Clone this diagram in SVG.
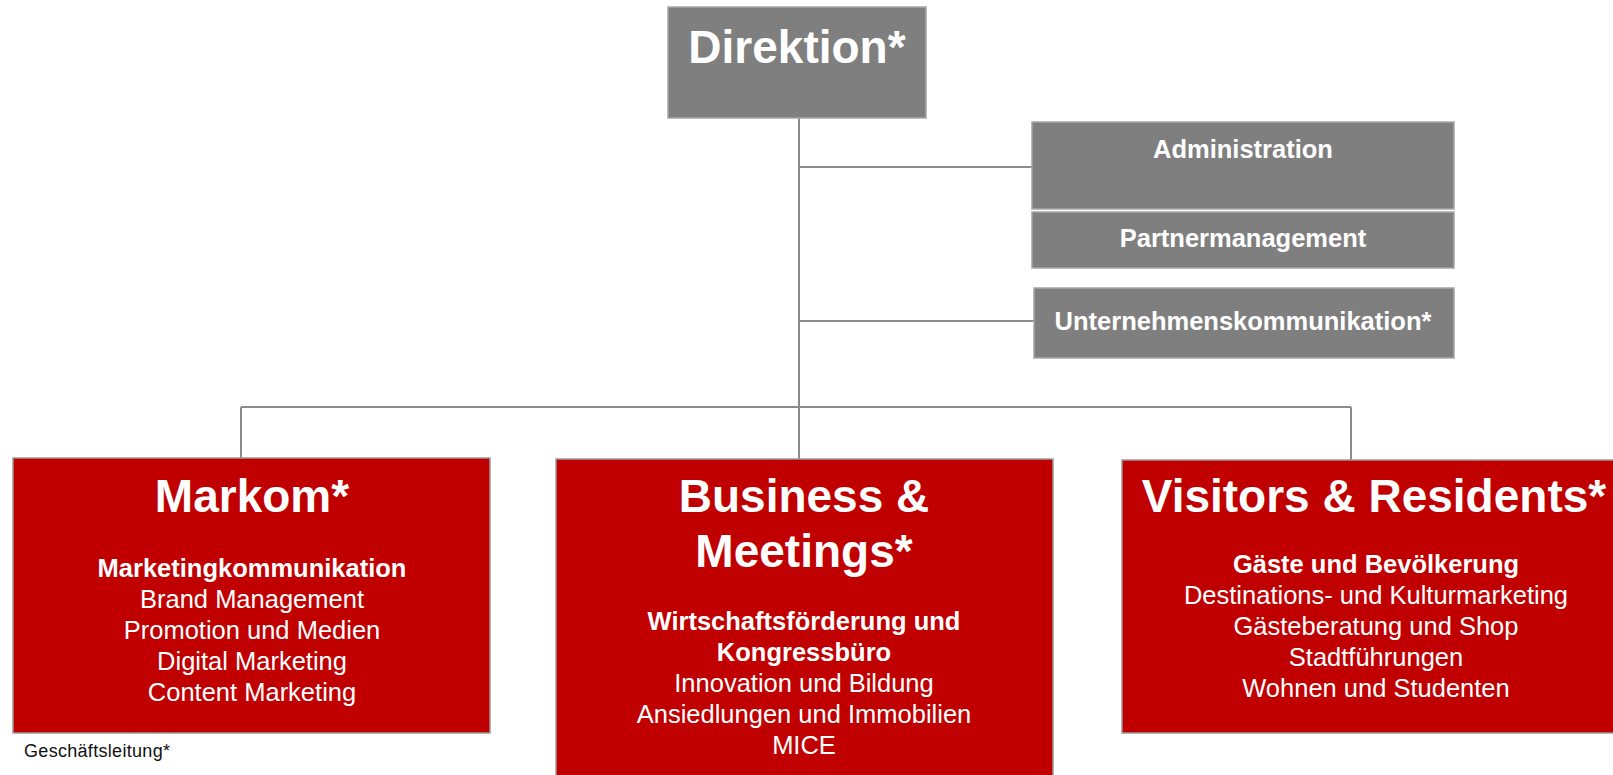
<svg xmlns="http://www.w3.org/2000/svg" width="1613" height="775" viewBox="0 0 1613 775">
<style>
.gray{fill:#7f7f7f;stroke:#a6a6a6;stroke-width:1.5}
.red{fill:#c00000;stroke:#9a9a9a;stroke-width:1.5}
.t{font-family:"Liberation Sans",Arial,sans-serif;fill:#fff;text-anchor:middle}
.big{font-size:46px;font-weight:bold}
.mid{font-size:25.5px;font-weight:bold}
.reg{font-size:25.5px}
.con{stroke:#8c8c8c;stroke-width:2;fill:none}
.note{font-family:"Liberation Sans",Arial,sans-serif;font-size:18px;fill:#111}
</style>
<rect width="1613" height="775" fill="#fff"/>
<g id="connectors">
<path class="con" d="M799 118 V459"/>
<path class="con" d="M799 167 H1032"/>
<path class="con" d="M799 321 H1034"/>
<path class="con" d="M241 407 H1351"/>
<path class="con" d="M241 407 V458"/>
<path class="con" d="M1351 407 V460"/>
</g>
<g id="direktion">
<rect class="gray" x="668" y="7" width="258" height="111"/>
<text class="t big" x="797" y="63">Direktion*</text>
</g>
<g id="administration">
<rect class="gray" x="1032" y="122" width="422" height="87"/>
<text class="t mid" x="1243" y="158">Administration</text>
</g>
<g id="partnermanagement">
<rect class="gray" x="1032" y="212" width="422" height="56"/>
<text class="t mid" x="1243" y="247">Partnermanagement</text>
</g>
<g id="unternehmenskommunikation">
<rect class="gray" x="1034" y="288" width="420" height="70"/>
<text class="t mid" x="1243" y="330">Unternehmenskommunikation*</text>
</g>
<g id="markom">
<rect class="red" x="13" y="458" width="477" height="275"/>
<text class="t big" x="252" y="512">Markom*</text>
<text class="t mid" x="252" y="577">Marketingkommunikation</text>
<text class="t reg" x="252" y="608">Brand Management</text>
<text class="t reg" x="252" y="639">Promotion und Medien</text>
<text class="t reg" x="252" y="670">Digital Marketing</text>
<text class="t reg" x="252" y="701">Content Marketing</text>
</g>
<g id="business">
<rect class="red" x="556" y="459" width="497" height="330"/>
<text class="t big" x="804" y="512">Business &amp;</text>
<text class="t big" x="804" y="567">Meetings*</text>
<text class="t mid" x="804" y="630">Wirtschaftsförderung und</text>
<text class="t mid" x="804" y="661">Kongressbüro</text>
<text class="t reg" x="804" y="692">Innovation und Bildung</text>
<text class="t reg" x="804" y="723">Ansiedlungen und Immobilien</text>
<text class="t reg" x="804" y="754">MICE</text>
</g>
<g id="visitors">
<rect class="red" x="1122" y="460" width="508" height="273"/>
<text class="t big" x="1374" y="512">Visitors &amp; Residents*</text>
<text class="t mid" x="1376" y="573">Gäste und Bevölkerung</text>
<text class="t reg" x="1376" y="604">Destinations- und Kulturmarketing</text>
<text class="t reg" x="1376" y="635">Gästeberatung und Shop</text>
<text class="t reg" x="1376" y="666">Stadtführungen</text>
<text class="t reg" x="1376" y="697">Wohnen und Studenten</text>
</g>
<g id="footnote">
<text class="note" x="24" y="757" textLength="146" lengthAdjust="spacing">Geschäftsleitung*</text>
</g>
</svg>
